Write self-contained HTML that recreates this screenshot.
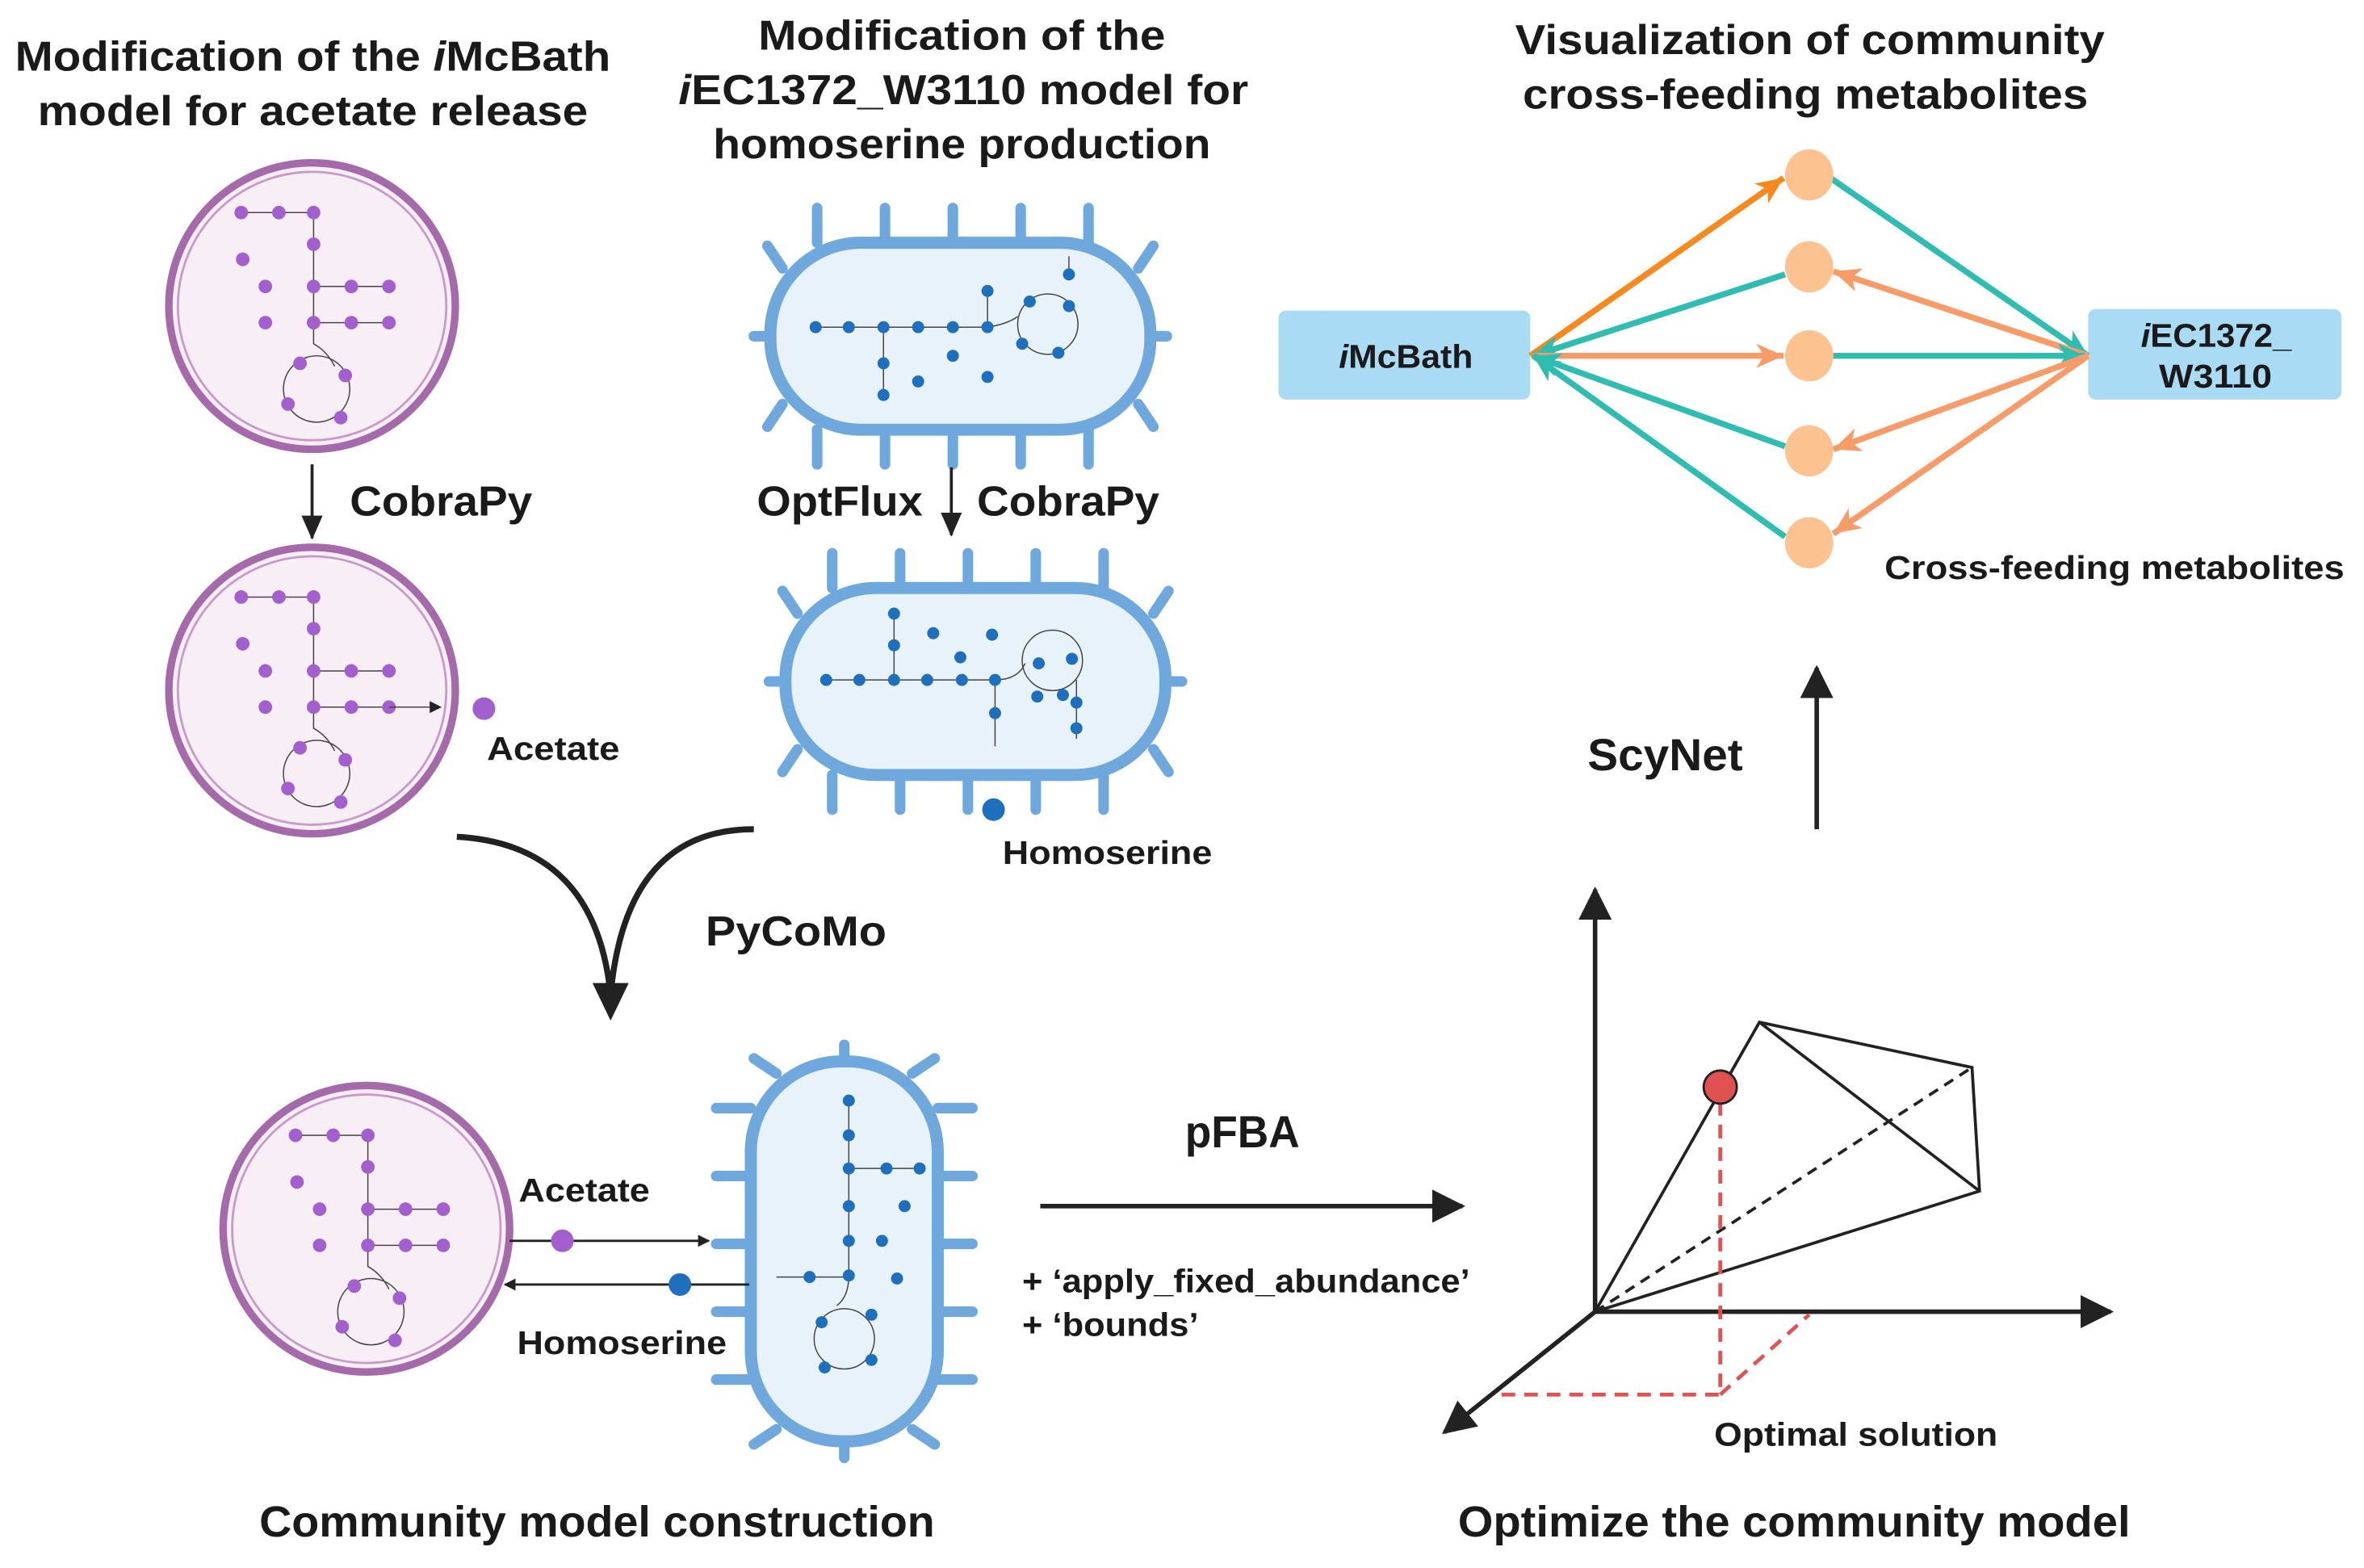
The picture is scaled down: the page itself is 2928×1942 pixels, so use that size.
<!DOCTYPE html>
<html><head><meta charset="utf-8"><style>
html,body{margin:0;padding:0;background:#fff;}
svg{display:block;}
text{font-family:"Liberation Sans",sans-serif;font-weight:bold;fill:#1a1a1a;}
</style></head><body>
<svg width="2928" height="1942" viewBox="0 0 1568 1040" preserveAspectRatio="none" xmlns="http://www.w3.org/2000/svg">
<defs>
<marker id="ak" markerWidth="8" markerHeight="8" refX="7" refY="4" orient="auto" markerUnits="userSpaceOnUse"><path d="M0,0 L8,4 L0,8 z" fill="#222"/></marker>
<marker id="akm" markerWidth="16" markerHeight="14" refX="15" refY="7" orient="auto" markerUnits="userSpaceOnUse"><path d="M0,0 L16,7 L0,14 z" fill="#222"/></marker>
<marker id="akb" markerWidth="22" markerHeight="22" refX="20" refY="11" orient="auto" markerUnits="userSpaceOnUse"><path d="M0,0 L22,11 L0,22 z" fill="#222"/></marker>
<marker id="mo" markerWidth="20" markerHeight="20" refX="18" refY="10" orient="auto" markerUnits="userSpaceOnUse"><path d="M0,2 L18,10 L0,18 L5,10 z" fill="#f7891f"/></marker>
<marker id="ml" markerWidth="20" markerHeight="20" refX="18" refY="10" orient="auto" markerUnits="userSpaceOnUse"><path d="M0,2 L18,10 L0,18 L5,10 z" fill="#f79c69"/></marker>
<marker id="mt" markerWidth="20" markerHeight="20" refX="18" refY="10" orient="auto" markerUnits="userSpaceOnUse"><path d="M0,2 L18,10 L0,18 L5,10 z" fill="#2ebdb0"/></marker>
<g id="pg">
 <g stroke="#444" stroke-width="0.8" fill="none">
  <path d="M-47,-62 H1 V11"/><path d="M1,-13 H51"/><path d="M1,11 H51"/>
  <path d="M1,11 V25 Q10,30 15,40"/><circle cx="3" cy="55" r="22"/>
 </g>
 <g fill="#a35fce">
  <circle cx="-47" cy="-62" r="4.5"/><circle cx="-22" cy="-62" r="4.5"/><circle cx="1" cy="-62" r="4.5"/>
  <circle cx="1" cy="-41" r="4.5"/><circle cx="-46" cy="-31" r="4.5"/>
  <circle cx="-31" cy="-13" r="4.5"/><circle cx="1" cy="-13" r="4.5"/><circle cx="26" cy="-13" r="4.5"/><circle cx="51" cy="-13" r="4.5"/>
  <circle cx="-31" cy="11" r="4.5"/><circle cx="1" cy="11" r="4.5"/><circle cx="26" cy="11" r="4.5"/><circle cx="51" cy="11" r="4.5"/>
  <circle cx="-8" cy="38" r="4.5"/><circle cx="22" cy="46" r="4.5"/><circle cx="-16" cy="65" r="4.5"/><circle cx="19" cy="74" r="4.5"/>
 </g>
</g>
<g id="cell">
 <ellipse cx="0" cy="0" rx="95" ry="95" fill="#f8eff6" stroke="#a56aa9" stroke-width="5"/>
 <ellipse cx="0" cy="0" rx="89" ry="89" fill="none" stroke="#c79ac9" stroke-width="1.5"/>
</g>
<g id="bact">
 <g stroke="#6fa8dc" stroke-width="7" fill="none" stroke-linecap="round">
  <path d="M-95,-62 V-85 M-50,-62 V-85 M-5,-62 V-85 M40,-62 V-85 M85,-62 V-85"/>
  <path d="M-95,62 V85 M-50,62 V85 M-5,62 V85 M40,62 V85 M85,62 V85"/>
  <path d="M-118,-45 L-128,-60 M118,-45 L128,-60 M-118,45 L-128,60 M118,45 L128,60 M-125,0 H-137 M125,0 H137"/>
 </g>
 <rect x="-126" y="-62" width="252" height="124" rx="60" fill="#e8f2fb" stroke="#6fa8dc" stroke-width="8"/>
</g>
</defs>

<text x="10" y="47" font-size="28" textLength="395" lengthAdjust="spacingAndGlyphs">Modification of the <tspan font-style="italic">i</tspan>McBath</text>
<text x="25" y="83" font-size="28" textLength="365" lengthAdjust="spacingAndGlyphs">model for acetate release</text>
<text x="503" y="33" font-size="28" textLength="270" lengthAdjust="spacingAndGlyphs">Modification of the</text>
<text x="450" y="69" font-size="28" textLength="378" lengthAdjust="spacingAndGlyphs"><tspan font-style="italic">i</tspan>EC1372_W3110 model for</text>
<text x="473" y="105" font-size="28" textLength="330" lengthAdjust="spacingAndGlyphs">homoserine production</text>
<text x="1005" y="36" font-size="28" textLength="391" lengthAdjust="spacingAndGlyphs">Visualization of community</text>
<text x="1010" y="72" font-size="28" textLength="375" lengthAdjust="spacingAndGlyphs">cross-feeding metabolites</text>

<use href="#cell" x="207" y="203"/><use href="#pg" x="207" y="203"/>
<use href="#cell" x="207" y="458"/><use href="#pg" x="207" y="458"/>
<line x1="258" y1="469" x2="292" y2="469" stroke="#444" stroke-width="0.8" marker-end="url(#ak)"/>
<circle cx="321" cy="470" r="7.5" fill="#a35fce"/>
<text x="323" y="504" font-size="22" textLength="88" lengthAdjust="spacingAndGlyphs">Acetate</text>

<line x1="207" y1="308" x2="207" y2="357" stroke="#222" stroke-width="2" marker-end="url(#akm)"/>
<text x="232" y="342" font-size="28" textLength="121" lengthAdjust="spacingAndGlyphs">CobraPy</text>

<use href="#bact" x="637" y="223"/>
<g stroke="#444" stroke-width="0.8" fill="none"><path d="M541,217 H655 Q668,215 675,210"/><path d="M586,217 V262"/><path d="M655,217 V193"/><circle cx="695" cy="215" r="20"/><path d="M709,182 V170"/></g>
<g fill="#1f6fbf"><circle cx="541" cy="217" r="4"/><circle cx="563" cy="217" r="4"/><circle cx="586" cy="217" r="4"/><circle cx="609" cy="217" r="4"/><circle cx="632" cy="217" r="4"/><circle cx="655" cy="217" r="4"/><circle cx="586" cy="241" r="4"/><circle cx="586" cy="262" r="4"/><circle cx="632" cy="236" r="4"/><circle cx="609" cy="253" r="4"/><circle cx="655" cy="250" r="4"/><circle cx="655" cy="193" r="4"/><circle cx="709" cy="182" r="4"/><circle cx="709" cy="203" r="4"/><circle cx="683" cy="200" r="4"/><circle cx="678" cy="228" r="4"/><circle cx="702" cy="234" r="4"/></g>

<line x1="631" y1="310" x2="631" y2="355" stroke="#222" stroke-width="2" marker-end="url(#akm)"/>
<text x="502" y="342" font-size="28" textLength="110" lengthAdjust="spacingAndGlyphs">OptFlux</text>
<text x="648" y="342" font-size="28" textLength="121" lengthAdjust="spacingAndGlyphs">CobraPy</text>

<use href="#bact" x="647" y="452"/>
<g stroke="#444" stroke-width="0.8" fill="none"><path d="M548,451 H660 Q675,451 680,440"/><path d="M593,451 V407"/><path d="M660,451 V495"/><circle cx="698" cy="438" r="20"/><path d="M714,451 V490"/></g>
<g fill="#1f6fbf"><circle cx="548" cy="451" r="4"/><circle cx="570" cy="451" r="4"/><circle cx="593" cy="451" r="4"/><circle cx="615" cy="451" r="4"/><circle cx="638" cy="451" r="4"/><circle cx="660" cy="451" r="4"/><circle cx="593" cy="407" r="4"/><circle cx="593" cy="428" r="4"/><circle cx="619" cy="420" r="4"/><circle cx="637" cy="436" r="4"/><circle cx="658" cy="421" r="4"/><circle cx="660" cy="473" r="4"/><circle cx="689" cy="440" r="4"/><circle cx="711" cy="437" r="4"/><circle cx="705" cy="461" r="4"/><circle cx="714" cy="466" r="4"/><circle cx="714" cy="483" r="4"/><circle cx="688" cy="462" r="4"/></g>
<circle cx="659" cy="537" r="7.5" fill="#1f6fbf"/>
<text x="665" y="573" font-size="22" textLength="139" lengthAdjust="spacingAndGlyphs">Homoserine</text>

<path d="M303,555 Q395,560 405,660" stroke="#222" stroke-width="4" fill="none"/>
<path d="M500,550 Q415,550 405,660" stroke="#222" stroke-width="4" fill="none"/>
<path d="M393,652 L405,677 L417,652 z" fill="#222"/>
<text x="468" y="627" font-size="28" textLength="120" lengthAdjust="spacingAndGlyphs">PyCoMo</text>

<use href="#cell" x="243" y="815"/><use href="#pg" x="243" y="815"/>
<g transform="translate(560,830) rotate(90)"><use href="#bact"/></g>
<g stroke="#444" stroke-width="0.8" fill="none"><path d="M563,730 V846 Q563,860 555,866"/><path d="M563,775 H610"/><path d="M515,847 H563"/><circle cx="560" cy="888" r="20"/></g>
<g fill="#1f6fbf"><circle cx="563" cy="730" r="4"/><circle cx="563" cy="753" r="4"/><circle cx="563" cy="775" r="4"/><circle cx="563" cy="800" r="4"/><circle cx="563" cy="823" r="4"/><circle cx="563" cy="846" r="4"/><circle cx="588" cy="775" r="4"/><circle cx="610" cy="775" r="4"/><circle cx="600" cy="800" r="4"/><circle cx="585" cy="823" r="4"/><circle cx="595" cy="848" r="4"/><circle cx="537" cy="847" r="4"/><circle cx="545" cy="877" r="4"/><circle cx="578" cy="872" r="4"/><circle cx="547" cy="907" r="4"/><circle cx="578" cy="902" r="4"/></g>
<line x1="338" y1="823" x2="470" y2="823" stroke="#222" stroke-width="1.5" marker-end="url(#ak)"/>
<circle cx="373" cy="823" r="7.5" fill="#a35fce"/>
<line x1="497" y1="852" x2="335" y2="852" stroke="#222" stroke-width="1.5" marker-end="url(#ak)"/>
<circle cx="451" cy="852" r="7.5" fill="#1f6fbf"/>
<text x="344" y="797" font-size="22" textLength="87" lengthAdjust="spacingAndGlyphs">Acetate</text>
<text x="343" y="898" font-size="22" textLength="139" lengthAdjust="spacingAndGlyphs">Homoserine</text>

<text x="172" y="1019" font-size="29" textLength="448" lengthAdjust="spacingAndGlyphs">Community model construction</text>
<text x="967" y="1019" font-size="29" textLength="446" lengthAdjust="spacingAndGlyphs">Optimize the community model</text>

<text x="786" y="761" font-size="30" textLength="76" lengthAdjust="spacingAndGlyphs">pFBA</text>
<line x1="690" y1="800" x2="970" y2="800" stroke="#222" stroke-width="3" marker-end="url(#akb)"/>
<text x="678" y="857" font-size="22" textLength="297" lengthAdjust="spacingAndGlyphs">+ ‘apply_fixed_abundance’</text>
<text x="678" y="886" font-size="22" textLength="117" lengthAdjust="spacingAndGlyphs">+ ‘bounds’</text>

<g stroke="#222" stroke-width="3" fill="none">
<line x1="1058" y1="870" x2="1058" y2="590" marker-end="url(#akb)"/>
<line x1="1058" y1="870" x2="1400" y2="870" marker-end="url(#akb)"/>
<line x1="1058" y1="870" x2="958" y2="950" marker-end="url(#akb)"/>
</g>
<g stroke="#222" stroke-width="2" fill="none">
<path d="M1058,870 L1167,678 L1308,708 L1313,790 Z"/><path d="M1167,678 L1313,790"/>
<path d="M1058,870 L1308,708" stroke-dasharray="7,5"/>
</g>
<g stroke="#e05252" stroke-width="2.5" fill="none" stroke-dasharray="9,6">
<path d="M1141,731 V925 H993"/><path d="M1141,925 L1200,872"/>
</g>
<circle cx="1141" cy="721" r="11" fill="#e05252" stroke="#222" stroke-width="1.5"/>
<text x="1137" y="959" font-size="22" textLength="188" lengthAdjust="spacingAndGlyphs">Optimal solution</text>

<line x1="1205" y1="550" x2="1205" y2="443" stroke="#222" stroke-width="3" marker-end="url(#akb)"/>
<text x="1053" y="511" font-size="30" textLength="103" lengthAdjust="spacingAndGlyphs">ScyNet</text>

<rect x="848" y="206" width="167" height="59" rx="5" fill="#a9dcf4"/>
<rect x="1385" y="205" width="168" height="60" rx="5" fill="#a9dcf4"/>
<text x="888" y="244" font-size="22" textLength="89" lengthAdjust="spacingAndGlyphs"><tspan font-style="italic">i</tspan>McBath</text>
<text x="1420" y="230" font-size="22" textLength="100" lengthAdjust="spacingAndGlyphs"><tspan font-style="italic">i</tspan>EC1372_</text>
<text x="1432" y="257" font-size="22" textLength="75" lengthAdjust="spacingAndGlyphs">W3110</text>
<g stroke-width="4" fill="none">
<line x1="1015" y1="236" x2="1183" y2="118" stroke="#f7891f" marker-end="url(#mo)"/>
<line x1="1214" y1="118" x2="1385" y2="236" stroke="#2ebdb0" marker-end="url(#mt)"/>
<line x1="1184" y1="182" x2="1017" y2="236" stroke="#2ebdb0" marker-end="url(#mt)"/>
<line x1="1385" y1="236" x2="1216" y2="180" stroke="#f79c69" marker-end="url(#ml)"/>
<line x1="1017" y1="236" x2="1183" y2="236" stroke="#f79c69" marker-end="url(#ml)"/>
<line x1="1216" y1="236" x2="1383" y2="236" stroke="#2ebdb0" marker-end="url(#mt)"/>
<line x1="1184" y1="296" x2="1017" y2="236" stroke="#2ebdb0" marker-end="url(#mt)"/>
<line x1="1385" y1="236" x2="1216" y2="298" stroke="#f79c69" marker-end="url(#ml)"/>
<line x1="1184" y1="356" x2="1017" y2="236" stroke="#2ebdb0" marker-end="url(#mt)"/>
<line x1="1385" y1="236" x2="1216" y2="354" stroke="#f79c69" marker-end="url(#ml)"/>
</g>
<g fill="#fcc391">
<ellipse cx="1200" cy="116" rx="16" ry="17"/><ellipse cx="1200" cy="177" rx="16" ry="17"/><ellipse cx="1200" cy="236" rx="16" ry="17"/><ellipse cx="1200" cy="299" rx="16" ry="17"/><ellipse cx="1200" cy="360" rx="16" ry="17"/>
</g>
<text x="1250" y="384" font-size="22" textLength="305" lengthAdjust="spacingAndGlyphs">Cross-feeding metabolites</text>
</svg>
</body></html>
